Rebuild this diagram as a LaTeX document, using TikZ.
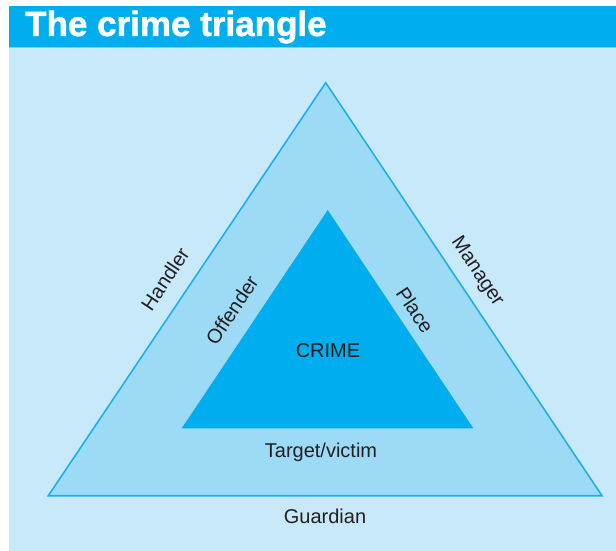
\documentclass[tikz,border=0pt]{standalone}
\usepackage{fontspec}
\setmainfont{Liberation Sans}
\newfontfamily\heavyfont[FakeBold=1.5]{Liberation Sans Bold}
\definecolor{barblue}{HTML}{00AEEF}
\definecolor{panelblue}{HTML}{C7E9F9}
\definecolor{ringblue}{HTML}{9DDAF6}
\definecolor{edgeblue}{HTML}{1FB0EA}
\definecolor{labelgray}{HTML}{231F20}
\tikzset{
  lbl/.style={text=labelgray, inner sep=0pt, font=\fontsize{20}{20}\selectfont},
  headline/.style={text=white, inner sep=0pt, anchor=west, font=\fontsize{35}{35}\heavyfont}
}
\begin{document}
\begin{tikzpicture}
      [x=1pt, y=-1pt]
      \useasboundingbox (0, 0) rectangle (616, 551);
      \fill[white] (0, 0) rectangle (616, 551);
      % panel and title bar
      \fill[panelblue] (9, 47) rectangle (616, 551);
      \fill[barblue] (9, 6) rectangle (616, 47);
      \draw[color=edgeblue!60, line width=1pt] (9, 47.5) -- (616, 47.5);
      \node[headline](title) at (25, 27) {The crime triangle};
      % triangle corners
      \coordinate(oa) at (325.7, 82.7);
      \coordinate(ol) at (48.3, 495.7);
      \coordinate(or) at (602, 495.7);
      \coordinate(ia) at (327.7, 210);
      \coordinate(il) at (181.7, 428.3);
      \coordinate(ir) at (473.3, 428.3);
      \filldraw[fill=ringblue, draw=edgeblue, line width=1.6pt, line join=miter] (oa) -- (ol) -- (or) -- cycle;
      \fill[barblue] (ia) -- (il) -- (ir) -- cycle;
      % labels
      \node[lbl](crime) at (328, 351) {CRIME};
      \node[lbl](victim) at (321, 452) {Target/victim};
      \node[lbl](guardian) at (325, 516) {Guardian};
      \node[lbl, rotate=56.3](offender) at (232, 310) {Offender};
      \node[lbl, rotate=56.3](handler) at (165, 279) {Handler};
      \node[lbl, rotate=-56.3](place) at (415, 310) {Place};
      \node[lbl, rotate=-56.3](manager) at (477, 272) {Manager};
  \end{tikzpicture}
\end{document}
